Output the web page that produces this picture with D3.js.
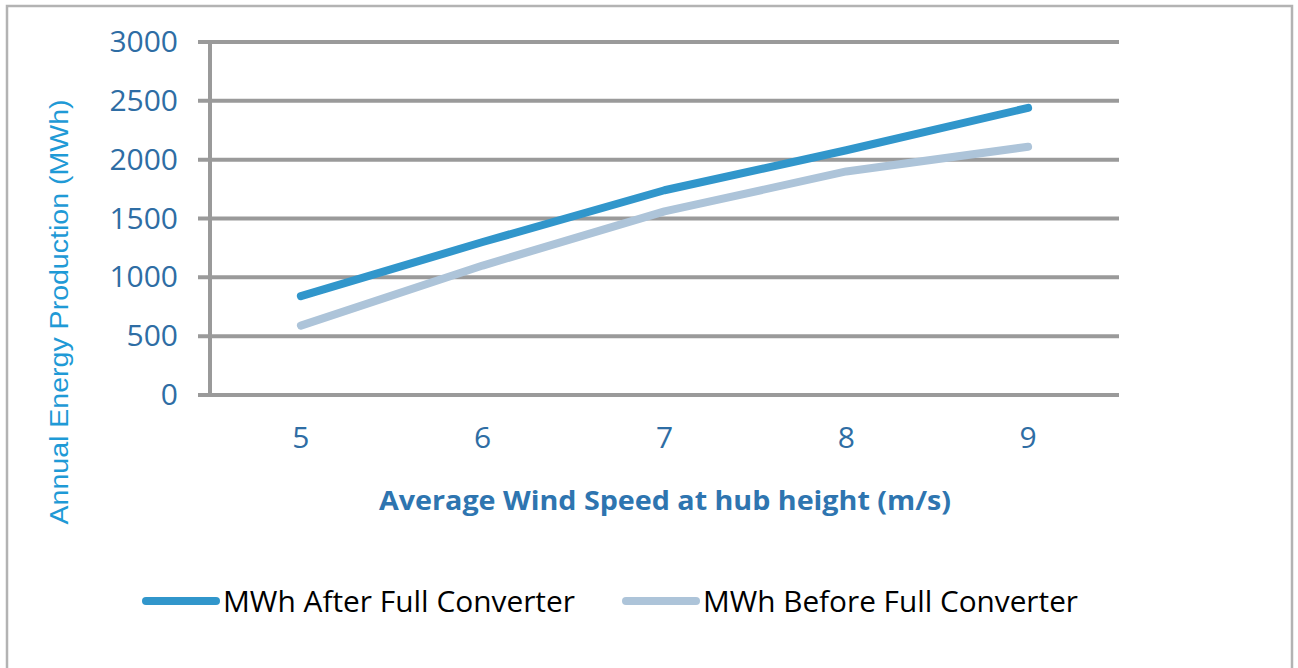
<!DOCTYPE html>
<html>
<head>
<meta charset="utf-8">
<script src="https://cdn.jsdelivr.net/npm/d3@7"></script>
<style>
	body { margin: 0; background: #fff; }
	svg { display: block; }
</style>
</head>
<body>
<div id="chart"></div>
<script>
// chart data
var speeds = ["5", "6", "7", "8", "9"];
var afterMWh = [840, 1300, 1740, 2080, 2440];
var beforeMWh = [590, 1100, 1560, 1900, 2110];
var yTicks = [0, 500, 1000, 1500, 2000, 2500, 3000];
var seriesNames = ["MWh After Full Converter", "MWh Before Full Converter"];

var colors = ["#3196cb", "#adc4d9"];
var tickColor = "#2e6da4";

var W = 1298, H = 668;
var margin = {top: 42, right: 179, bottom: 273, left: 210};
var width = W - margin.left - margin.right,
	height = H - margin.top - margin.bottom;

var svg = d3.select("#chart")
	.append("svg")
	.attr("width", W)
	.attr("height", H);

// outer frame
svg.append("rect")
	.attr("x", 7)
	.attr("y", 6)
	.attr("width", 1285)
	.attr("height", 700)
	.attr("fill", "none")
	.attr("stroke", "#b3b3b3")
	.attr("stroke-width", 2.5);

var g = svg.append("g")
	.attr("transform", "translate(" + margin.left + "," + margin.top + ")");

// scales
var x = d3.scaleBand()
	.domain(speeds)
	.range([0, width]);

var y = d3.scaleLinear()
	.domain([0, 3000])
	.range([height, 0]);

// gridlines (with tick stubs to the left)
g.append("g")
	.selectAll("line")
	.data(yTicks)
	.enter()
	.append("line")
	.attr("x1", -12)
	.attr("x2", width)
	.attr("y1", function(d) { return y(d); })
	.attr("y2", function(d) { return y(d); })
	.attr("stroke", "#9a9a9a")
	.attr("stroke-width", 4);

// vertical axis line
g.append("line")
	.attr("x1", 0).attr("x2", 0)
	.attr("y1", y(3000) - 2).attr("y2", y(0) + 2)
	.attr("stroke", "#9a9a9a")
	.attr("stroke-width", 4);

// y axis labels
var yAxis = d3.axisLeft(y)
	.tickValues(yTicks)
	.tickFormat(d3.format("d"))
	.tickSize(0)
	.tickPadding(32);

g.append("g")
	.call(yAxis)
	.call(function(s) { s.select(".domain").remove(); })
	.selectAll("text")
	.attr("fill", tickColor)
	.style("font-family", "'Open Sans', sans-serif")
	.style("font-size", "30px");

// x axis labels
var xAxis = d3.axisBottom(x)
	.tickSize(0)
	.tickPadding(32);

g.append("g")
	.attr("transform", "translate(0," + height + ")")
	.call(xAxis)
	.call(function(s) { s.select(".domain").remove(); })
	.selectAll("text")
	.attr("fill", tickColor)
	.style("font-family", "'Open Sans', sans-serif")
	.style("font-size", "30px");

// lines
var line = d3.line()
	.x(function(d, i) { return x(speeds[i]) + x.bandwidth() / 2; })
	.y(function(d) { return y(d); });

[afterMWh, beforeMWh].forEach(function(vals, k) {
	g.append("path")
		.datum(vals)
		.attr("d", line)
		.attr("fill", "none")
		.attr("stroke", colors[k])
		.attr("stroke-width", 8)
		.attr("stroke-linecap", "round")
		.attr("stroke-linejoin", "round");
});

// axis titles
svg.append("text")
	.attr("transform", "translate(68,312) rotate(-90)")
	.attr("text-anchor", "middle")
	.attr("fill", "#1f9ad6")
	.attr("textLength", 425)
	.attr("lengthAdjust", "spacingAndGlyphs")
	.style("font-family", "'Liberation Sans', Arial, sans-serif")
	.style("font-size", "25px")
	.text("Annual Energy Production (MWh)");

svg.append("text")
	.attr("x", 665)
	.attr("y", 510)
	.attr("text-anchor", "middle")
	.attr("fill", "#2e75b0")
	.attr("textLength", 572)
	.attr("lengthAdjust", "spacingAndGlyphs")
	.style("font-family", "'Open Sans', sans-serif")
	.style("font-weight", "bold")
	.style("font-size", "27px")
	.text("Average Wind Speed at hub height (m/s)");

// legend
var legendX = [143, 623];
var legendTextLen = [352, 375];
var legend = svg.selectAll(".legend")
	.data(seriesNames)
	.enter()
	.append("g")
	.attr("class", "legend");

legend.append("line")
	.attr("x1", function(d, i) { return legendX[i] + 3; })
	.attr("x2", function(d, i) { return legendX[i] + 73; })
	.attr("y1", 601)
	.attr("y2", 601)
	.attr("stroke", function(d, i) { return colors[i]; })
	.attr("stroke-width", 8)
	.attr("stroke-linecap", "round");

legend.append("text")
	.attr("x", function(d, i) { return legendX[i] + 80; })
	.attr("y", 612)
	.attr("fill", "#000")
	.attr("textLength", function(d, i) { return legendTextLen[i]; })
	.attr("lengthAdjust", "spacingAndGlyphs")
	.style("font-family", "'Open Sans', sans-serif")
	.style("font-size", "29px")
	.text(function(d) { return d; });
</script>
</body>
</html>
